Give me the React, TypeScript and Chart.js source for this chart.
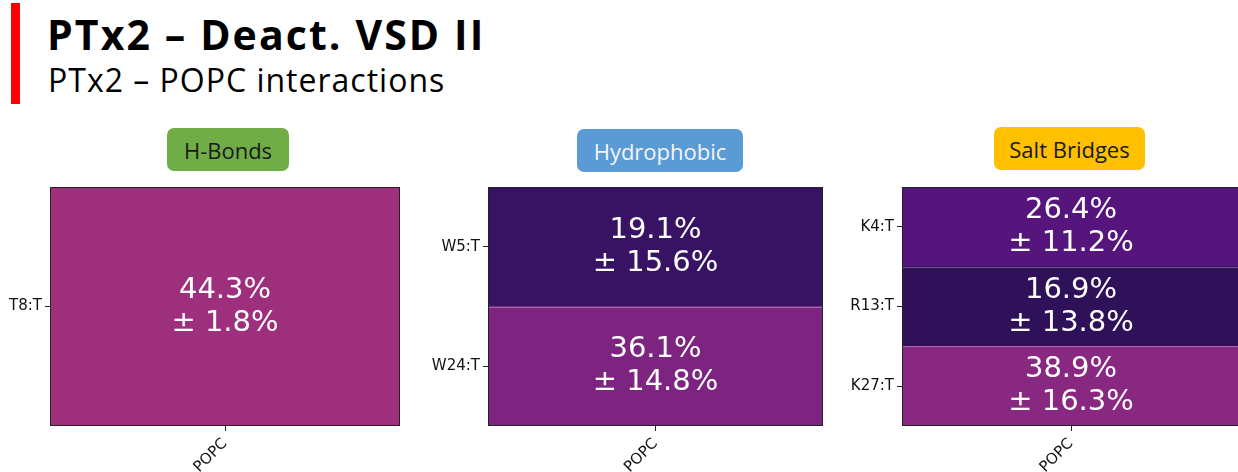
import React, { useEffect, useRef } from "react";
import { Chart, registerables } from "chart.js";
Chart.register(...registerables);

// ---------- data ----------
const lipids = ["POPC"];
const hbondRows = ["T8:T"];
const hbondMean = [44.3];
const hbondSd = [1.8];
const hydroRows = ["W5:T", "W24:T"];
const hydroMean = [19.1, 36.1];
const hydroSd = [15.6, 14.8];
const saltRows = ["K4:T", "R13:T", "K27:T"];
const saltMean = [26.4, 16.9, 38.9];
const saltSd = [11.2, 13.8, 16.3];
const panelTitles = ["H-Bonds", "Hydrophobic", "Salt Bridges"];
const mainTitle = "PTx2 \u2013 Deact. VSD II";
const subTitle = "PTx2 \u2013 POPC interactions";

// magma colormap anchors
const MAGMA = ["#000004", "#1D1147", "#51127C", "#822681", "#B63679", "#E65164", "#FB8861", "#FEC287", "#FCFDBF"];
function hexRgb(h: string) {
  return [parseInt(h.slice(1, 3), 16), parseInt(h.slice(3, 5), 16), parseInt(h.slice(5, 7), 16)];
}
function magma(t: number) {
  const v = Math.max(0, Math.min(1, t)) * (MAGMA.length - 1);
  const i = Math.min(MAGMA.length - 2, Math.floor(v));
  const f = v - i;
  const a = hexRgb(MAGMA[i]);
  const b = hexRgb(MAGMA[i + 1]);
  const c = a.map((x, k) => Math.round(x + (b[k] - x) * f));
  return `rgb(${c[0]},${c[1]},${c[2]})`;
}

const cellPlugin = {
  id: "cellPlugin",
  afterDatasetsDraw(chart: any, _args: any, opts: any) {
    const { ctx, chartArea } = chart;
    const meta = chart.getDatasetMeta(0);
    const xs = chart.scales.x;
    const cx = xs.getPixelForValue(0.5);
    ctx.save();
    // dividers
    ctx.strokeStyle = "rgba(255,255,255,0.3)";
    ctx.lineWidth = 1;
    const n = meta.data.length;
    for (let i = 0; i < n - 1; i++) {
      const b: any = meta.data[i];
      const yb = Math.round(b.y + b.height / 2) + 0.5;
      ctx.beginPath();
      ctx.moveTo(chartArea.left, yb);
      ctx.lineTo(chartArea.right, yb);
      ctx.stroke();
    }
    // text
    ctx.fillStyle = "#ffffff";
    ctx.font = "29px 'DejaVu Sans'";
    ctx.textAlign = "center";
    ctx.textBaseline = "middle";
    meta.data.forEach((b: any, i: number) => {
      ctx.fillText(`${opts.means[i].toFixed(1)}%`, cx, b.y - 16.5);
      ctx.fillText(`\u00b1 ${opts.sds[i].toFixed(1)}%`, cx, b.y + 16.5);
    });
    // frame
    ctx.strokeStyle = "#222";
    ctx.lineWidth = 1;
    ctx.strokeRect(
      Math.round(chartArea.left) + 0.5,
      Math.round(chartArea.top) + 0.5,
      Math.round(chartArea.right - chartArea.left) - 1,
      Math.round(chartArea.bottom - chartArea.top) - 1
    );
    ctx.restore();
  },
};

type PanelProps = {
  rows: string[];
  means: number[];
  sds: number[];
  left: number;
  width: number;
  yWidth: number;
  padRight: number;
};

const CANVAS_TOP = 175;
const CANVAS_H = 297;

function Heatmap({ rows, means, sds, left, width, yWidth, padRight }: PanelProps) {
  const ref = useRef<HTMLCanvasElement>(null);
  useEffect(() => {
    if (!ref.current) return;
    const font = { family: "'DejaVu Sans'", size: 15 };
    const chart = new Chart(ref.current, {
      type: "bar",
      data: {
        labels: rows,
        datasets: [
          {
            data: rows.map(() => [0, 1]) as any,
            backgroundColor: means.map((m) => magma(m / 100)),
            barPercentage: 1,
            categoryPercentage: 1,
            borderWidth: 0,
            borderSkipped: false,
          },
        ],
      },
      options: {
        indexAxis: "y",
        animation: false,
        responsive: false,
        maintainAspectRatio: false,
        layout: { padding: { top: 0, right: padRight, left: 0, bottom: 0 } },
        plugins: {
          legend: { display: false },
          tooltip: { enabled: false },
          cellPlugin: { means, sds },
        } as any,
        scales: {
          y: {
            type: "category",
            offset: true,
            grid: { offset: false, drawOnChartArea: false, tickLength: 5, color: "#222", lineWidth: 1 },
            border: { display: false },
            ticks: { font, color: "#111", padding: 3 },
            afterFit: (s: any) => {
              s.width = yWidth;
            },
          } as any,
          x: {
            type: "linear",
            min: 0,
            max: 1,
            afterBuildTicks: (s: any) => {
              s.ticks = lipids.map((_, i) => ({ value: (i + 0.5) / lipids.length }));
            },
            ticks: {
              callback: (_v: any, i: number) => lipids[i],
              minRotation: 45,
              maxRotation: 45,
              font,
              color: "#111",
              padding: 4,
            },
            grid: { drawOnChartArea: false, tickLength: 5, color: "#222", lineWidth: 1 },
            border: { display: false },
            afterFit: (s: any) => {
              s.height = 46;
            },
          } as any,
        },
      },
      plugins: [cellPlugin],
    });
    return () => chart.destroy();
  }, []);
  return (
    <canvas
      ref={ref}
      width={width}
      height={CANVAS_H}
      style={{ position: "absolute", left, top: CANVAS_TOP, width, height: CANVAS_H }}
    />
  );
}

function TitleBox({ text, left, top, width, height, bg, color }: any) {
  return (
    <div
      style={{
        position: "absolute",
        left,
        top,
        width,
        height,
        background: bg,
        borderRadius: 7,
        display: "flex",
        alignItems: "center",
        justifyContent: "center",
        fontFamily: "'Open Sans', 'Noto Sans', sans-serif",
        fontSize: 22,
        color,
        lineHeight: 1,
      }}
    >
      {text}
    </div>
  );
}

export default function App() {
  return (
    <div
      style={{
        position: "absolute",
        left: 0,
        top: 0,
        width: 1238,
        height: 472,
        overflow: "hidden",
        background: "#fff",
      }}
    >
      <div style={{ position: "absolute", left: 11, top: 3, width: 9, height: 101, background: "#FF0000" }} />
      <div
        style={{
          position: "absolute",
          left: 47,
          top: 14,
          fontFamily: "'Open Sans', 'Noto Sans', sans-serif",
          fontWeight: 700,
          fontSize: 41,
          lineHeight: "41px",
          letterSpacing: 2.1,
          color: "#000",
          whiteSpace: "nowrap",
        }}
      >
        {mainTitle}
      </div>
      <div
        style={{
          position: "absolute",
          left: 48,
          top: 64,
          fontFamily: "'Open Sans', 'Noto Sans', sans-serif",
          fontSize: 32,
          lineHeight: "32px",
          letterSpacing: 1,
          color: "#000",
          whiteSpace: "nowrap",
        }}
      >
        {subTitle}
      </div>
      <TitleBox text={panelTitles[0]} left={167} top={128} width={122} height={43} bg="#70AD47" color="#1a1a1a" />
      <TitleBox text={panelTitles[1]} left={577} top={129} width={166} height={43} bg="#5B9BD5" color="#f4f4f4" />
      <TitleBox text={panelTitles[2]} left={994} top={127} width={151} height={43} bg="#FFC000" color="#1a1a1a" />
      <Heatmap rows={hbondRows} means={hbondMean} sds={hbondSd} left={0} width={410} yWidth={50} padRight={10} />
      <Heatmap rows={hydroRows} means={hydroMean} sds={hydroSd} left={420} width={413} yWidth={68} padRight={10} />
      <Heatmap rows={saltRows} means={saltMean} sds={saltSd} left={835} width={410} yWidth={67} padRight={5} />
    </div>
  );
}
